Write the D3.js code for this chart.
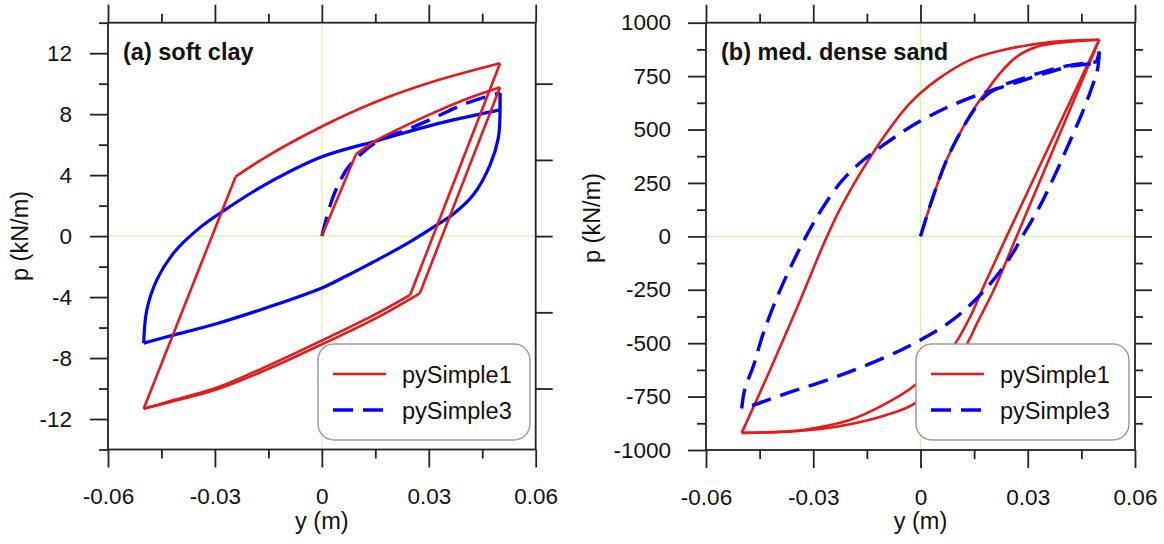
<!DOCTYPE html>
<html>
<head>
<meta charset="utf-8">
<script src="https://cdn.jsdelivr.net/npm/d3@7"></script>
<style>
  body { margin: 0; background: #fff; }
  text { font-family: "Liberation Sans", Arial, sans-serif; fill: #111; }
  .zero { stroke: #cff5a6; stroke-width: 1.2; }
  .frame { fill: none; stroke: #222; stroke-width: 1.8; }
  .tick line { stroke: #222; stroke-width: 1.8; }
  .tick text { font-size: 22.5px; fill: #111; }
</style>
</head>
<body>
<svg id="chart" width="1164" height="544"></svg>
<script>
// ---- axis ticks ----
const xTickLabels = [-0.06, -0.03, 0, 0.03, 0.06];
const xMinorTicks = [-0.045, -0.015, 0.015, 0.045];
const clayTickLabels = [-12, -8, -4, 0, 4, 8, 12];
const clayMinorTicks = [-14, -10, -6, -2, 2, 6, 10, 14];
const clayRightTicks = [-10, -5, 0, 5, 10];
const sandTickLabels = [-1000, -750, -500, -250, 0, 250, 500, 750, 1000];
const sandMinorTicks = [-875, -625, -375, -125, 125, 375, 625, 875];
const sandRightMajor = [-750, -500, -250, 0, 250, 500, 750];
const sandRightMinor = [-875, -625, -375, -125, 125, 375, 625, 875];

// ---- (a) soft clay, pySimple1: [y (m), p (kN/m)] per loading branch ----
const clayS1Load = [[0, 0], [0.0096, 5.39]];
const clayS1Yield = [[0.0096, 5.39], [0.015, 6.25], [0.02, 6.85], [0.03, 7.95], [0.04, 8.95], [0.05, 9.77]];
const clayS1Unload1 = [[0.05, 9.77], [0.0275, -3.75]];
const clayS1Reverse1 = [[0.0275, -3.75], [0.0144, -5.48], [0, -7.1], [-0.0155, -8.76], [-0.0296, -10.07], [-0.0437, -10.95], [-0.05, -11.33]];
const clayS1Reload = [[-0.05, -11.33], [-0.0242, 3.9]];
const clayS1Forward = [[-0.0242, 3.9], [-0.0155, 5.22], [0, 7.19], [0.0154, 8.83], [0.0313, 10.14], [0.05, 11.34]];
const clayS1Unload2 = [[0.05, 11.34], [0.0248, -3.85]];
const clayS1Reverse2 = [[0.0248, -3.85], [0.0144, -5.2], [0, -6.85], [-0.0155, -8.55], [-0.0296, -9.95], [-0.0437, -10.9], [-0.05, -11.33]];

// ---- (a) soft clay, pySimple3 ----
const clayS3Initial = [[0, 0], [0.0032, 2.6], [0.0069, 4.35], [0.0097, 5.11], [0.0163, 6.31], [0.0238, 6.97], [0.0313, 7.74], [0.0406, 8.72], [0.05, 9.4]];
const clayS3Drop = [[0.05, 9.4], [0.05, 8.28]];
const clayS3Unload = [[0.05, 8.28], [0.0495, 6.43], [0.0472, 4.68], [0.0425, 2.71], [0.0369, 1.45], [0.0322, 0.72], [0.0247, -0.38], [0.0191, -1.12], [0.0144, -1.7], [0.007, -2.6], [0, -3.4], [-0.0155, -4.7], [-0.0296, -5.75], [-0.0437, -6.62], [-0.05, -7.02]];
const clayS3Reload = [[-0.05, -7.02], [-0.0491, -4.83], [-0.0463, -2.87], [-0.0413, -1.03], [-0.0343, 0.54], [-0.0272, 1.72], [-0.016, 3.36], [0, 5.2], [0.0163, 6.31], [0.0312, 7.3], [0.05, 8.28]];

// ---- (b) med. dense sand, pySimple1 ----
const sandS1Initial = [[0, 0], [0.0035, 185], [0.0073, 357], [0.011, 482], [0.0147, 591], [0.018, 669], [0.0222, 763], [0.0269, 840], [0.0325, 887], [0.0418, 911], [0.05, 920]];
const sandS1Unload1 = [[0.05, 920], [0.0269, 0], [0.0205, -251], [0.016, -400], [0.0125, -517], [0.006, -650], [-0.0016, -782], [-0.0095, -836], [-0.0235, -891], [-0.035, -912], [-0.05, -920]];
const sandS1Reload = [[-0.05, -920], [-0.0422, -630], [-0.0343, -325], [-0.0272, -40], [-0.0235, 95], [-0.0195, 220], [-0.0161, 316], [-0.0105, 460], [-0.003, 622], [0.0045, 731], [0.0138, 825], [0.0231, 872], [0.0371, 911], [0.05, 920]];
const sandS1Unload2 = [[0.05, 920], [0.0241, 0], [0.0175, -240], [0.0138, -380], [0.0091, -517], [0.004, -610], [-0.0021, -704], [-0.0105, -790], [-0.0198, -860], [-0.0329, -906], [-0.05, -920]];

// ---- (b) med. dense sand, pySimple3 ----
const sandS3Initial = [[0, 0], [0.0035, 185], [0.0073, 357], [0.011, 482], [0.0147, 585], [0.018, 655], [0.0231, 707], [0.0287, 740], [0.0353, 775], [0.0418, 800], [0.0493, 817]];
const sandS3Peak = [[0.0493, 817], [0.05, 865]];
const sandS3Unload = [[0.05, 865], [0.0495, 780], [0.048, 700], [0.046, 610], [0.0435, 510], [0.041, 415], [0.0385, 320], [0.036, 230], [0.0335, 145], [0.031, 70], [0.0285, 0], [0.025, -100], [0.0175, -260], [0.0091, -390], [0, -485], [-0.0095, -563], [-0.0235, -657], [-0.0375, -735], [-0.0468, -790], [-0.05, -805]];
const sandS3Reload = [[-0.05, -805], [-0.0492, -719], [-0.0466, -600], [-0.0441, -460], [-0.0405, -300], [-0.0365, -150], [-0.032, 0], [-0.0275, 130], [-0.022, 260], [-0.016, 357], [-0.011, 420], [-0.0021, 520], [0.0045, 580], [0.009, 615], [0.0158, 660], [0.023, 700], [0.0287, 730], [0.0353, 765], [0.0418, 795], [0.0493, 817], [0.05, 840]];

const seriesNames = ["pySimple1", "pySimple3"];
const RED = "#e41a1c";
const BLUE = "#0000ff";
const DASH = "20,10";

const svg = d3.select("#chart");

function fmtX(d) { return d === 0 ? "0" : d.toFixed(2); }

function drawPanel(cfg) {
  const x = d3.scaleLinear().domain([-0.06, 0.06]).range([cfg.left, cfg.right]);
  const y = d3.scaleLinear().domain(cfg.yDomain).range([cfg.bottom, cfg.top]);
  const g = svg.append("g");

  // zero reference lines
  g.append("line").attr("class", "zero")
    .attr("x1", x(0)).attr("x2", x(0)).attr("y1", cfg.top).attr("y2", cfg.bottom);
  g.append("line").attr("class", "zero")
    .attr("x1", cfg.left).attr("x2", cfg.right).attr("y1", y(0)).attr("y2", y(0));

  const line = d3.line().x(d => x(d[0])).y(d => y(d[1])).curve(d3.curveCatmullRom.alpha(0.5));

  cfg.curves.forEach(c => {
    g.append("path")
      .attr("d", line(c.data))
      .attr("fill", "none")
      .attr("stroke", c.color)
      .attr("stroke-width", c.width)
      .attr("stroke-linejoin", "round")
      .attr("stroke-dasharray", c.dash || null);
  });

  // legend
  const lg = g.append("g");
  lg.append("rect")
    .attr("x", cfg.legend.x).attr("y", 344).attr("width", cfg.legend.w).attr("height", 96)
    .attr("rx", 16).attr("ry", 16)
    .attr("fill", "#fff").attr("stroke", "#9d9d9d").attr("stroke-width", 1.5);
  const items = [
    { name: seriesNames[0], color: RED, width: 2.6, dash: null, yy: 374 },
    { name: seriesNames[1], color: BLUE, width: 3.4, dash: DASH, yy: 410 }
  ];
  items.forEach(it => {
    lg.append("line")
      .attr("x1", cfg.legend.x + 15).attr("x2", cfg.legend.x + 68)
      .attr("y1", it.yy).attr("y2", it.yy)
      .attr("stroke", it.color).attr("stroke-width", it.width)
      .attr("stroke-dasharray", it.dash);
    lg.append("text")
      .attr("x", cfg.legend.x + 84).attr("y", it.yy + 9)
      .style("font-size", "23.5px")
      .text(it.name);
  });

  // frame
  g.append("rect").attr("class", "frame")
    .attr("x", cfg.left).attr("y", cfg.top)
    .attr("width", cfg.right - cfg.left).attr("height", cfg.bottom - cfg.top);

  const strip = sel => sel.select(".domain").remove();

  // bottom axis
  g.append("g").attr("transform", `translate(0,${cfg.bottom})`)
    .call(d3.axisBottom(x).tickValues(xTickLabels).tickSize(18).tickPadding(21).tickFormat(fmtX)).call(strip);
  g.append("g").attr("transform", `translate(0,${cfg.bottom})`)
    .call(d3.axisBottom(x).tickValues(xMinorTicks).tickSize(9).tickFormat("")).call(strip);
  // top axis
  g.append("g").attr("transform", `translate(0,${cfg.top})`)
    .call(d3.axisTop(x).tickValues(xTickLabels).tickSize(18).tickFormat("")).call(strip);
  g.append("g").attr("transform", `translate(0,${cfg.top})`)
    .call(d3.axisTop(x).tickValues(xMinorTicks).tickSize(9).tickFormat("")).call(strip);
  // left axis
  g.append("g").attr("transform", `translate(${cfg.left},0)`)
    .call(d3.axisLeft(y).tickValues(cfg.yLabels).tickSize(18).tickPadding(cfg.yPad).tickFormat(d => String(d))).call(strip);
  g.append("g").attr("transform", `translate(${cfg.left},0)`)
    .call(d3.axisLeft(y).tickValues(cfg.yMinor).tickSize(9).tickFormat("")).call(strip);
  // right axis
  cfg.rightTicks.forEach(rt => {
    g.append("g").attr("transform", `translate(${cfg.right},0)`)
      .call(d3.axisRight(y).tickValues(rt.values).tickSize(rt.size).tickFormat("")).call(strip);
  });

  // axis titles
  g.append("text")
    .attr("x", (cfg.left + cfg.right) / 2).attr("y", 529)
    .attr("text-anchor", "middle").style("font-size", "23.5px")
    .text("y (m)");
  g.append("text")
    .attr("transform", `translate(${cfg.yTitleX},${cfg.yTitleY}) rotate(-90)`)
    .attr("text-anchor", "middle").style("font-size", "23.5px")
    .text("p (kN/m)");

  // panel title
  g.append("text")
    .attr("x", cfg.left + 15).attr("y", 60)
    .style("font-size", "23.5px").style("font-weight", "bold")
    .text(cfg.title);
}

drawPanel({
  left: 108, right: 535.7, top: 22.7, bottom: 449.5,
  yDomain: [-14, 14],
  yLabels: clayTickLabels, yMinor: clayMinorTicks, yPad: 18,
  rightTicks: [{ values: clayRightTicks, size: 17 }],
  yTitleX: 28, yTitleY: 236,
  title: "(a) soft clay",
  legend: { x: 318, w: 212 },
  curves: [
    { data: clayS3Initial, color: BLUE, width: 3.4, dash: DASH },
    { data: clayS3Drop, color: BLUE, width: 3.4, dash: DASH },
    { data: clayS3Unload, color: BLUE, width: 3.2 },
    { data: clayS3Reload, color: BLUE, width: 3.2 },
    { data: clayS1Load, color: RED, width: 2.6 },
    { data: clayS1Yield, color: RED, width: 2.6 },
    { data: clayS1Unload1, color: RED, width: 2.6 },
    { data: clayS1Reverse1, color: RED, width: 2.6 },
    { data: clayS1Reload, color: RED, width: 2.6 },
    { data: clayS1Forward, color: RED, width: 2.6 },
    { data: clayS1Unload2, color: RED, width: 2.6 },
    { data: clayS1Reverse2, color: RED, width: 2.6 }
  ]
});

drawPanel({
  left: 706, right: 1135, top: 22.7, bottom: 450,
  yDomain: [-1000, 1000],
  yLabels: sandTickLabels, yMinor: sandMinorTicks, yPad: 17,
  rightTicks: [{ values: sandRightMajor, size: 17 }, { values: sandRightMinor, size: 8 }],
  yTitleX: 600, yTitleY: 218,
  title: "(b) med. dense sand",
  legend: { x: 916, w: 213 },
  curves: [
    { data: sandS1Initial, color: RED, width: 2.6 },
    { data: sandS1Unload1, color: RED, width: 2.6 },
    { data: sandS1Reload, color: RED, width: 2.6 },
    { data: sandS1Unload2, color: RED, width: 2.6 },
    { data: sandS3Initial, color: BLUE, width: 3.4, dash: DASH },
    { data: sandS3Peak, color: BLUE, width: 3.4, dash: DASH },
    { data: sandS3Unload, color: BLUE, width: 3.4, dash: DASH },
    { data: sandS3Reload, color: BLUE, width: 3.4, dash: DASH }
  ]
});
</script>
</body>
</html>
